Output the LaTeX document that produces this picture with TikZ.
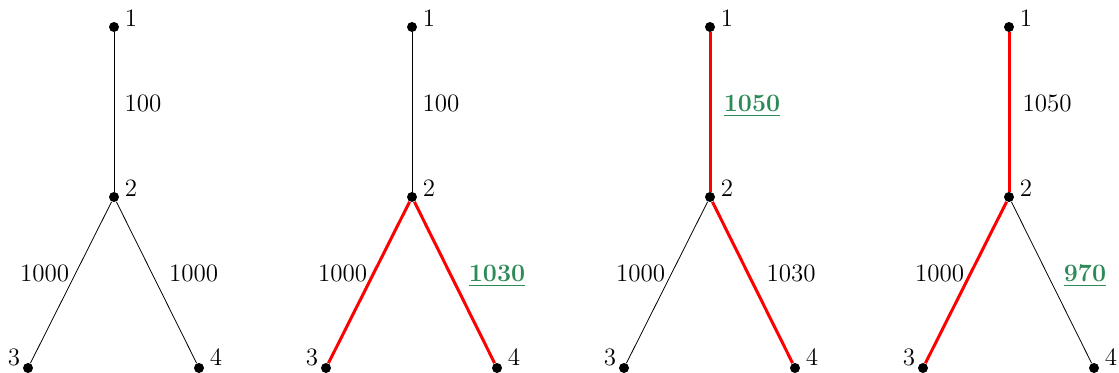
\documentclass[tikz,border=0pt]{standalone}
\definecolor{sgreen}{RGB}{46,139,87}
\tikzset{
  vtx/.style={circle,fill=black,inner sep=0pt,minimum size=5pt},
  plain/.style={draw=black,line width=0.4pt},
  hot/.style={draw=red,line width=1.5pt},
  elab/.style={inner sep=0pt,anchor=base,font=\fontsize{12.5}{15}\selectfont},
  hl/.style={elab,text=sgreen,font=\fontsize{12.5}{15}\selectfont\bfseries},
}
\newcommand{\hlu}[1]{\underline{#1}}
\begin{document}
\begin{tikzpicture}[x=0.5pt,y=-0.5pt]
\useasboundingbox (0,0) rectangle (1119,373);
% ---- panel 1
\begin{scope}[xshift=0]
\node[vtx] (a1) at (114,27) {};
\node[vtx] (a2) at (114,197) {};
\node[vtx] (a3) at (28,368) {};
\node[vtx] (a4) at (199,368) {};
\node[elab] (a1l) at (131,27) {1};
\node[elab] (a2l) at (131,197) {2};
\node[elab] (a3l) at (14,366) {3};
\node[elab] (a4l) at (216,366) {4};
\path[plain] (a1) -- (a2);
\path[plain] (a2) -- (a3);
\path[plain] (a2) -- (a4);
\node[elab] (a12) at (143,112) {100};
\node[elab] (a23) at (44.5,282) {1000};
\node[elab] (a24) at (193.5,282) {1000};
\end{scope}
% ---- panel 2
\begin{scope}[xshift=149pt]
\node[vtx] (b1) at (114,27) {};
\node[vtx] (b2) at (114,197) {};
\node[vtx] (b3) at (28,368) {};
\node[vtx] (b4) at (199,368) {};
\node[elab] (b1l) at (131,27) {1};
\node[elab] (b2l) at (131,197) {2};
\node[elab] (b3l) at (14,366) {3};
\node[elab] (b4l) at (216,366) {4};
\path[plain] (b1) -- (b2);
\path[hot] (b2) -- (b3);
\path[hot] (b2) -- (b4);
\node[elab] (b12) at (143,112) {100};
\node[elab] (b23) at (44.5,282) {1000};
\node[hl] (b24) at (199,282) {\hlu{1030}};
\end{scope}
% ---- panel 3
\begin{scope}[xshift=298pt]
\node[vtx] (c1) at (114,27) {};
\node[vtx] (c2) at (114,197) {};
\node[vtx] (c3) at (28,368) {};
\node[vtx] (c4) at (199,368) {};
\node[elab] (c1l) at (131,27) {1};
\node[elab] (c2l) at (131,197) {2};
\node[elab] (c3l) at (14,366) {3};
\node[elab] (c4l) at (216,366) {4};
\path[hot] (c1) -- (c2);
\path[plain] (c2) -- (c3);
\path[hot] (c2) -- (c4);
\node[hl] (c12) at (156,112) {\hlu{1050}};
\node[elab] (c23) at (44.5,282) {1000};
\node[elab] (c24) at (195,282) {1030};
\end{scope}
% ---- panel 4
\begin{scope}[xshift=447.5pt]
\node[vtx] (d1) at (114,27) {};
\node[vtx] (d2) at (114,197) {};
\node[vtx] (d3) at (28,368) {};
\node[vtx] (d4) at (199,368) {};
\node[elab] (d1l) at (131,27) {1};
\node[elab] (d2l) at (131,197) {2};
\node[elab] (d3l) at (14,366) {3};
\node[elab] (d4l) at (216,366) {4};
\path[hot] (d1) -- (d2);
\path[hot] (d2) -- (d3);
\path[plain] (d2) -- (d4);
\node[elab] (d12) at (152,112) {1050};
\node[elab] (d23) at (44.5,282) {1000};
\node[hl] (d24) at (190,282) {\hlu{970}};
\end{scope}
\end{tikzpicture}
\end{document}
